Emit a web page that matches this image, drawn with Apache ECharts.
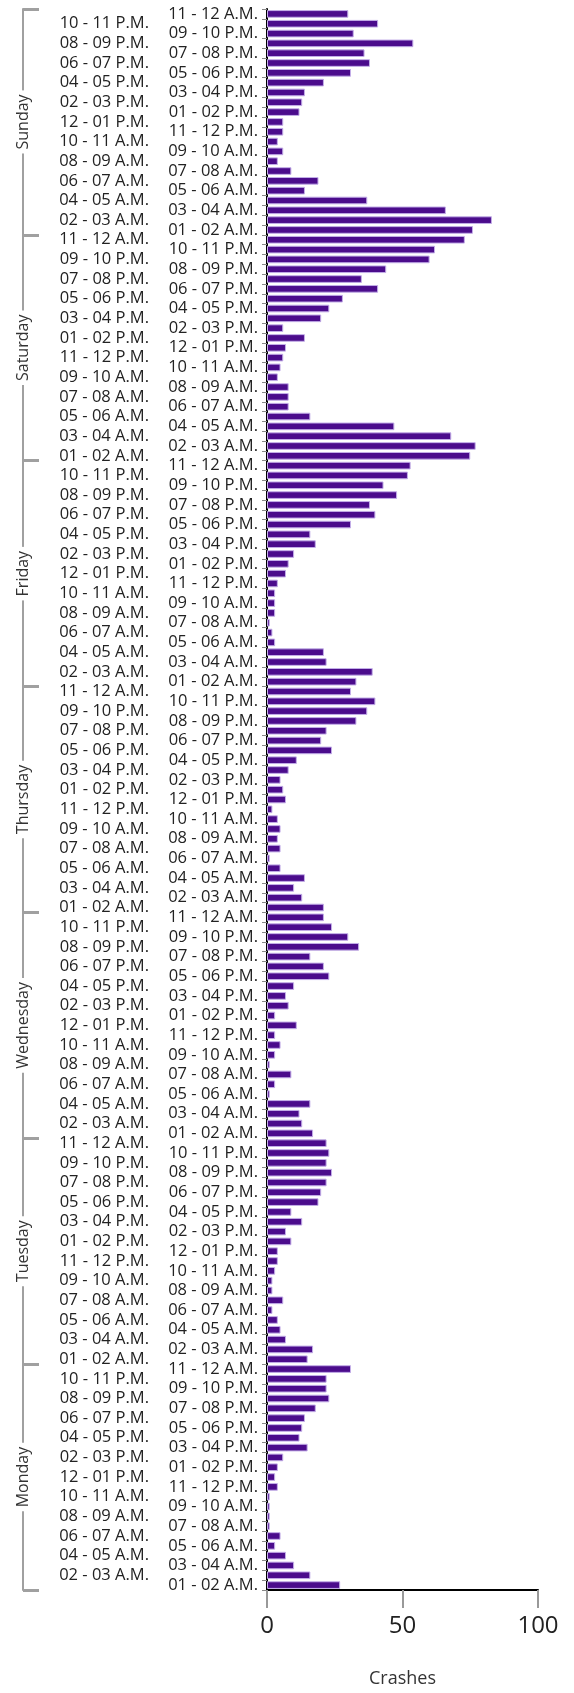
<!DOCTYPE html>
<html>
<head>
<meta charset="utf-8">
<script src="https://cdn.jsdelivr.net/npm/echarts@6/dist/echarts.min.js"></script>
<style>
  html, body { margin: 0; padding: 0; background: #fff; }
  #chart { width: 574px; height: 1693px; }
</style>
</head>
<body>
<div id="chart"></div>
<script>
// days, top to bottom
var days = ['Sunday', 'Saturday', 'Friday', 'Thursday', 'Wednesday', 'Tuesday', 'Monday'];

// hour labels for one day, top to bottom
var hours = [
  '11 - 12 A.M.', '10 - 11 P.M.', '09 - 10 P.M.', '08 - 09 P.M.', '07 - 08 P.M.', '06 - 07 P.M.',
  '05 - 06 P.M.', '04 - 05 P.M.', '03 - 04 P.M.', '02 - 03 P.M.', '01 - 02 P.M.', '12 - 01 P.M.',
  '11 - 12 P.M.', '10 - 11 A.M.', '09 - 10 A.M.', '08 - 09 A.M.', '07 - 08 A.M.', '06 - 07 A.M.',
  '05 - 06 A.M.', '04 - 05 A.M.', '03 - 04 A.M.', '02 - 03 A.M.', '01 - 02 A.M.'
];

// crashes per hour, same order as hours
var sunday    = [30, 41, 32, 54, 36, 38, 31, 21, 14, 13, 12, 6, 6, 4, 6, 4, 9, 19, 14, 37, 66, 83, 76];
var saturday  = [73, 62, 60, 44, 35, 41, 28, 23, 20, 6, 14, 7, 6, 5, 4, 8, 8, 8, 16, 47, 68, 77, 75];
var friday    = [53, 52, 43, 48, 38, 40, 31, 16, 18, 10, 8, 7, 4, 3, 3, 3, 1, 2, 3, 21, 22, 39, 33];
var thursday  = [31, 40, 37, 33, 22, 20, 24, 11, 8, 5, 6, 7, 2, 4, 5, 4, 5, 1, 5, 14, 10, 13, 21];
var wednesday = [21, 24, 30, 34, 16, 21, 23, 10, 7, 8, 3, 11, 3, 5, 3, 1, 9, 3, 1, 16, 12, 13, 17];
var tuesday   = [22, 23, 22, 24, 22, 20, 19, 9, 13, 7, 9, 4, 4, 3, 2, 2, 6, 2, 4, 5, 7, 17, 15];
var monday    = [31, 22, 22, 23, 18, 14, 13, 12, 15, 6, 4, 3, 4, 1, 1, 1, 1, 5, 3, 7, 10, 16, 27];

var xTicks = [0, 50, 100];

var categories = [];
days.forEach(function () { categories = categories.concat(hours); });
var values = [].concat(sunday, saturday, friday, thursday, wednesday, tuesday, monday);

var font = 'Open Sans';
var chart = echarts.init(document.getElementById('chart'));
var option = {
  animation: false,
  grid: { left: 267, right: 36, top: 9, bottom: 102 },
  xAxis: {
    type: 'value',
    min: xTicks[0],
    max: xTicks[xTicks.length - 1],
    interval: xTicks[1] - xTicks[0],
    name: 'Crashes',
    nameLocation: 'middle',
    nameGap: 80,
    nameTextStyle: { color: '#333', fontSize: 18, fontFamily: font },
    axisLine: { show: true, lineStyle: { color: '#000', width: 2 } },
    axisTick: { show: true, length: 18, lineStyle: { color: '#999', width: 2 } },
    axisLabel: { color: '#222', fontSize: 24, fontFamily: font, margin: 24 },
    splitLine: { show: false }
  },
  yAxis: [{
    type: 'category',
    data: categories,
    inverse: true,
    axisLine: { show: true, lineStyle: { color: '#000', width: 2 } },
    axisTick: { show: true, length: 5, lineStyle: { color: '#888' } },
    axisLabel: {
      interval: 0,
      margin: 9,
      formatter: function (v, i) {
        // labels alternate between two columns
        return i % 2 === 0 ? '{near|' + v + '}' : '{far|' + v + '}';
      },
      rich: {
        near: { color: '#222', fontSize: 16.5, fontFamily: font },
        far: { color: '#222', fontSize: 16.5, fontFamily: font, padding: [0, 109, 0, 0] }
      }
    }
  }, {
    // day brackets
    type: 'category',
    data: days,
    inverse: true,
    position: 'left',
    offset: 244,
    axisLine: { show: true, lineStyle: { color: '#a0a0a0', width: 2 } },
    axisTick: { show: true, inside: true, length: 16, lineStyle: { color: '#a0a0a0', width: 3 } },
    axisLabel: {
      rotate: 90,
      margin: 0,
      align: 'center',
      verticalAlign: 'middle',
      color: '#333',
      fontSize: 16,
      fontFamily: font,
      backgroundColor: '#fff',
      padding: [0, 4]
    }
  }],
  series: [{
    type: 'bar',
    yAxisIndex: 0,
    data: values,
    barCategoryGap: '22%',
    itemStyle: { color: '#4b0c8c', borderColor: '#c3aee8', borderWidth: 1 }
  }]
};
chart.setOption(option);
</script>
</body>
</html>
